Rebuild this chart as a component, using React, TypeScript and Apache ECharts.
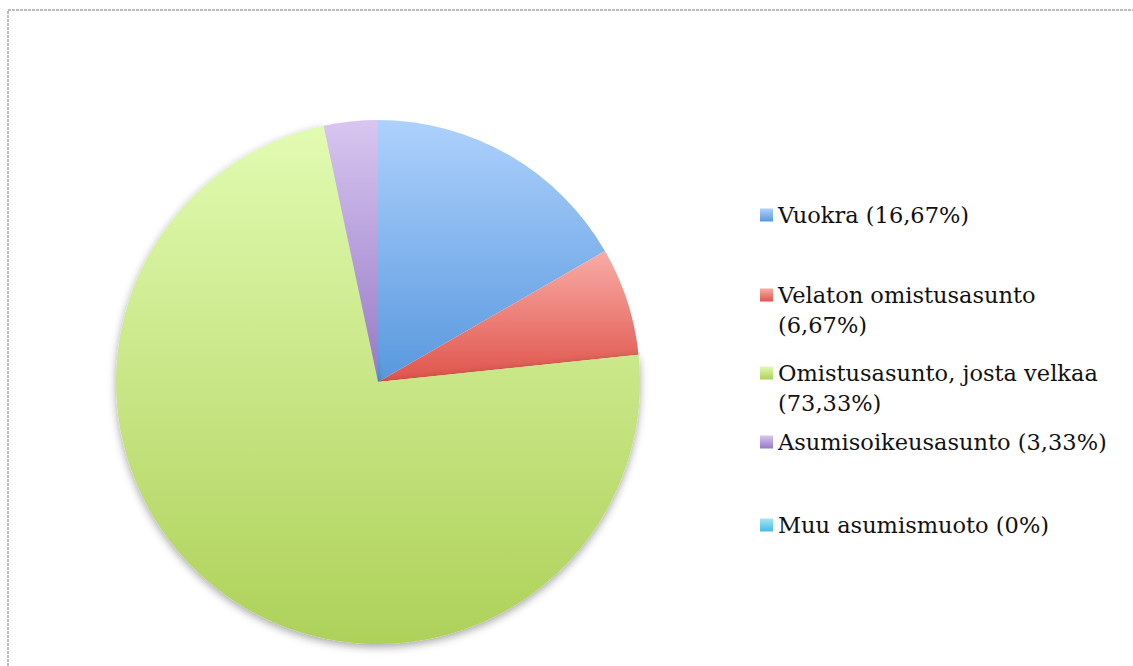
import { useEffect, useRef } from 'react';
import * as echarts from 'echarts';

// ---- data ----
const categories = [
  'Vuokra',
  'Velaton omistusasunto',
  'Omistusasunto, josta velkaa',
  'Asumisoikeusasunto',
  'Muu asumismuoto',
];
const shares = [16.67, 6.67, 73.33, 3.33, 0];
const shareLabels = ['16,67%', '6,67%', '73,33%', '3,33%', '0%'];

// ---- styles / layout ----
const gradientStops: [string, string][] = [
  ['#aed1fd', '#5898de'],
  ['#f8aca6', '#df544b'],
  ['#e2fbb2', '#aed159'],
  ['#d8c6f0', '#9679c6'],
  ['#a6e5f6', '#45bbe0'],
];
const markerTops = [208.5, 288.5, 366.5, 435.5, 518.5];
const legendWrap = [false, true, true, false, false];
const FONT = 'DejaVu Serif';
const LINE_H = 30;
const ICON = 13;

function grad(top: string, bottom: string) {
  return {
    type: 'linear',
    x: 0,
    y: 0,
    x2: 0,
    y2: 1,
    colorStops: [
      { offset: 0, color: top },
      { offset: 1, color: bottom },
    ],
  };
}

export default function App() {
  const ref = useRef<HTMLDivElement>(null);

  useEffect(() => {
    if (!ref.current) return;
    const chart = echarts.init(ref.current, undefined, { renderer: 'svg' });

    const data = categories.map((name, i) => ({
      name,
      value: shares[i],
      itemStyle: {
        color: grad(gradientStops[i][0], gradientStops[i][1]),
        ...(i === 2
          ? { shadowBlur: 8, shadowOffsetY: 3, shadowColor: 'rgba(0,0,0,0.35)' }
          : {}),
      },
    }));

    const legends = categories.map((name, i) => {
      const wrap = legendWrap[i];
      // single line: text box starts LINE_H/2 - ICON/2 above icon top
      // wrapped: a blank leading line keeps the first visible line on the icon
      const offset = wrap ? (3 * LINE_H) / 2 - ICON / 2 : LINE_H / 2 - ICON / 2;
      return {
        data: [name],
        left: 760,
        top: markerTops[i] - offset,
        padding: 0,
        orient: 'vertical',
        itemWidth: ICON,
        itemHeight: ICON,
        icon: 'rect',
        selectedMode: false,
        itemStyle: { shadowBlur: 0, shadowColor: 'transparent', borderWidth: 0 },
        formatter: (n: string) =>
          wrap ? `\n${n}\n(${shareLabels[i]})` : `${n} (${shareLabels[i]})`,
        textStyle: {
          fontFamily: FONT,
          fontSize: 22.5,
          color: '#111111',
          lineHeight: LINE_H,
        },
      };
    });

    chart.setOption({
      animation: false,
      backgroundColor: '#ffffff',
      graphic: [
        {
          type: 'rect',
          shape: { x: 8, y: 10, width: 1200, height: 700 },
          style: { fill: 'none', stroke: '#bcbcbc', lineWidth: 2, lineDash: [3, 1] },
          silent: true,
        },
      ],
      legend: legends,
      series: [
        {
          type: 'pie',
          center: [378, 382],
          radius: 262,
          startAngle: 90,
          clockwise: true,
          label: { show: false },
          labelLine: { show: false },
          emphasis: { disabled: true },
          itemStyle: { borderWidth: 0 },
          data,
        },
      ],
    });

    return () => chart.dispose();
  }, []);

  return (
    <div
      ref={ref}
      style={{ position: 'absolute', left: 0, top: 0, width: 1133, height: 666 }}
    />
  );
}
